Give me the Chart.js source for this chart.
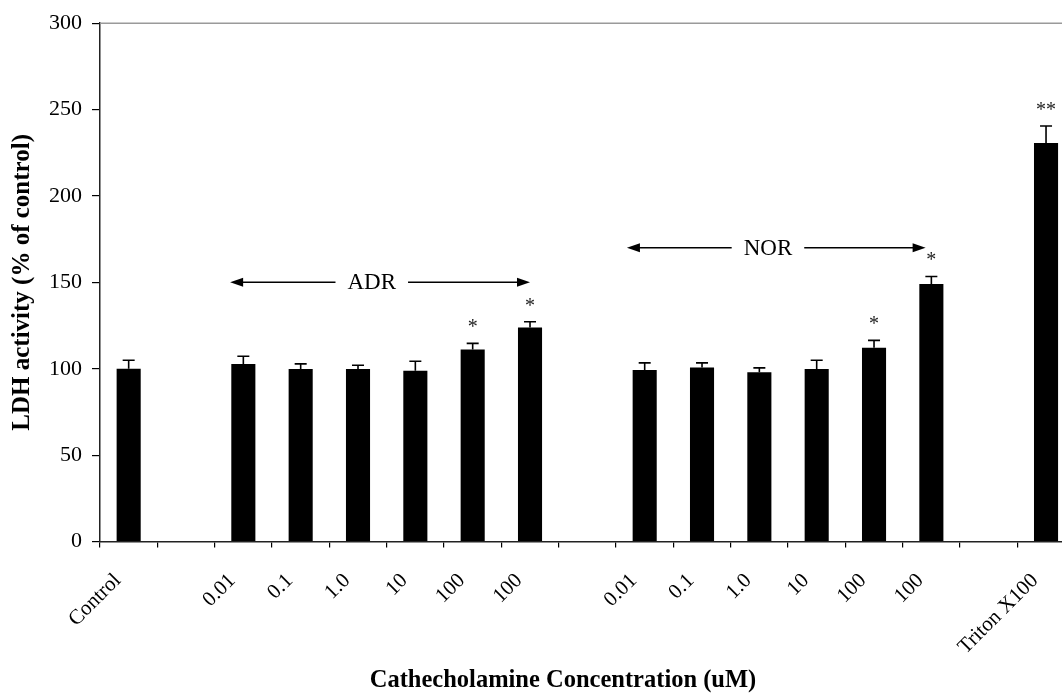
<!DOCTYPE html>
<html>
<head>
<meta charset="utf-8">
<script src="https://cdn.jsdelivr.net/npm/chart.js@4"></script>
<style>
html,body{margin:0;padding:0;background:#fff;overflow:hidden}
#wrap{width:1080px;height:693px}
</style>
</head>
<body>
<div id="wrap"><canvas id="grafico"></canvas></div>
<script>
// x categories (empty strings are the gaps between groups)
const categorias = ['Control','','0.01','0.1','1.0','10','100','100','','0.01','0.1','1.0','10','100','100','','Triton X100']
// LDH activity, % of control
const medias = [100, null, 102.8, 99.9, 99.9, 98.8, 111.1, 123.8, null, 99.3, 100.7, 98.0, 99.9, 112.2, 149.0, null, 230.7]
// error bar (+) sizes
const erros = [4.9, null, 4.4, 2.9, 2.1, 5.5, 3.6, 3.4, null, 4.1, 2.7, 2.5, 5.0, 4.2, 4.4, null, 9.8]
// significance marks
const marcas = ['', '', '', '', '', '', '*', '*', '', '', '', '', '', '*', '*', '', '**']
// group arrows: [from, to, text position, level, name]
const grupos = [
  [1.77, 7.0, 4.24, 150, 'ADR'],
  [8.69, 13.9, 11.15, 170, 'NOR']
]
const yTicks = [0, 50, 100, 150, 200, 250, 300]

const fonte = "'Liberation Serif', 'Times New Roman', serif"

const extras = {
  id: 'extras',
  afterDatasetsDraw(chart){
    const ctx = chart.ctx
    const x = chart.scales.x
    const y = chart.scales.y
    const area = chart.chartArea
    ctx.save()

    // top border of plot area
    ctx.strokeStyle = '#9a9a9a'
    ctx.lineWidth = 1.5
    ctx.beginPath()
    ctx.moveTo(area.left, area.top)
    ctx.lineTo(area.right, area.top)
    ctx.stroke()

    // error bars + marks
    ctx.strokeStyle = '#000'
    ctx.fillStyle = '#000'
    ctx.lineWidth = 1.6
    medias.forEach((m, i) => {
      if (m == null) return
      const px = x.getPixelForValue(i)
      const yTop = y.getPixelForValue(m)
      const yErr = y.getPixelForValue(m + erros[i])
      ctx.beginPath()
      ctx.moveTo(px, yTop)
      ctx.lineTo(px, yErr)
      ctx.moveTo(px - 6, yErr)
      ctx.lineTo(px + 6, yErr)
      ctx.stroke()
      if (marcas[i]) {
        ctx.font = '20px ' + fonte
        ctx.textAlign = 'center'
        ctx.textBaseline = 'alphabetic'
        ctx.fillStyle = '#222'
        ctx.fillText(marcas[i], px, yErr - 10)
        ctx.fillStyle = '#000'
      }
    })

    // group arrows
    ctx.font = '23px ' + fonte
    ctx.textAlign = 'center'
    ctx.textBaseline = 'middle'
    grupos.forEach(g => {
      const x1 = x.getPixelForValue(g[0])
      const x2 = x.getPixelForValue(g[1])
      const xt = x.getPixelForValue(g[2])
      const py = y.getPixelForValue(g[3])
      const w = ctx.measureText(g[4]).width / 2 + 12
      ctx.lineWidth = 1.5
      ctx.beginPath()
      ctx.moveTo(x1 + 8, py)
      ctx.lineTo(xt - w, py)
      ctx.moveTo(xt + w, py)
      ctx.lineTo(x2 - 8, py)
      ctx.stroke()
      ctx.beginPath()
      ctx.moveTo(x1, py)
      ctx.lineTo(x1 + 13, py - 4.5)
      ctx.lineTo(x1 + 13, py + 4.5)
      ctx.closePath()
      ctx.fill()
      ctx.beginPath()
      ctx.moveTo(x2, py)
      ctx.lineTo(x2 - 13, py - 4.5)
      ctx.lineTo(x2 - 13, py + 4.5)
      ctx.closePath()
      ctx.fill()
      ctx.fillText(g[4], xt, py + 1)
    })

    // x axis title
    ctx.font = 'bold 24.5px ' + fonte
    ctx.textBaseline = 'alphabetic'
    ctx.fillText('Cathecholamine Concentration (uM)', 563, 687)
    ctx.restore()
  }
}

new Chart(document.getElementById('grafico'), {
  type: 'bar',
  data: {
    labels: categorias,
    datasets: [{
      data: medias,
      backgroundColor: '#000',
      borderColor: '#000',
      borderWidth: 0,
      barPercentage: 0.42,
      categoryPercentage: 1.0
    }]
  },
  options: {
    responsive: true,
    maintainAspectRatio: false,
    animation: false,
    layout: { padding: { top: 21.5, right: 5.3, left: 0, bottom: 0 } },
    plugins: { legend: { display: false }, tooltip: { enabled: false } },
    scales: {
      x: {
        grid: { offset: true, drawOnChartArea: false, tickLength: 6, color: '#000', lineWidth: 1.2 },
        border: { color: '#222', width: 1.5 },
        ticks: {
          autoSkip: false, minRotation: 45, maxRotation: 45, labelOffset: -11,
          color: '#000', font: { family: fonte, size: 21 }, padding: 21
        },
        afterFit(s){ s.height = 151.5; s.paddingRight = 0; s.paddingLeft = 0 }
      },
      y: {
        min: 0, max: 300,
        afterBuildTicks(s){ s.ticks = yTicks.map(v => ({ value: v })) },
        grid: { drawOnChartArea: false, tickLength: 8, color: '#000', lineWidth: 1.2 },
        border: { color: '#222', width: 1.5 },
        ticks: { color: '#000', font: { family: fonte, size: 22 }, padding: 10 },
        title: {
          display: true, text: 'LDH activity (% of control)', color: '#000',
          font: { family: fonte, size: 25, weight: 'bold' }, padding: { top: 8, bottom: 2 }
        },
        afterFit(s){ s.width = 100 }
      }
    }
  },
  plugins: [extras]
})
</script>
</body>
</html>
